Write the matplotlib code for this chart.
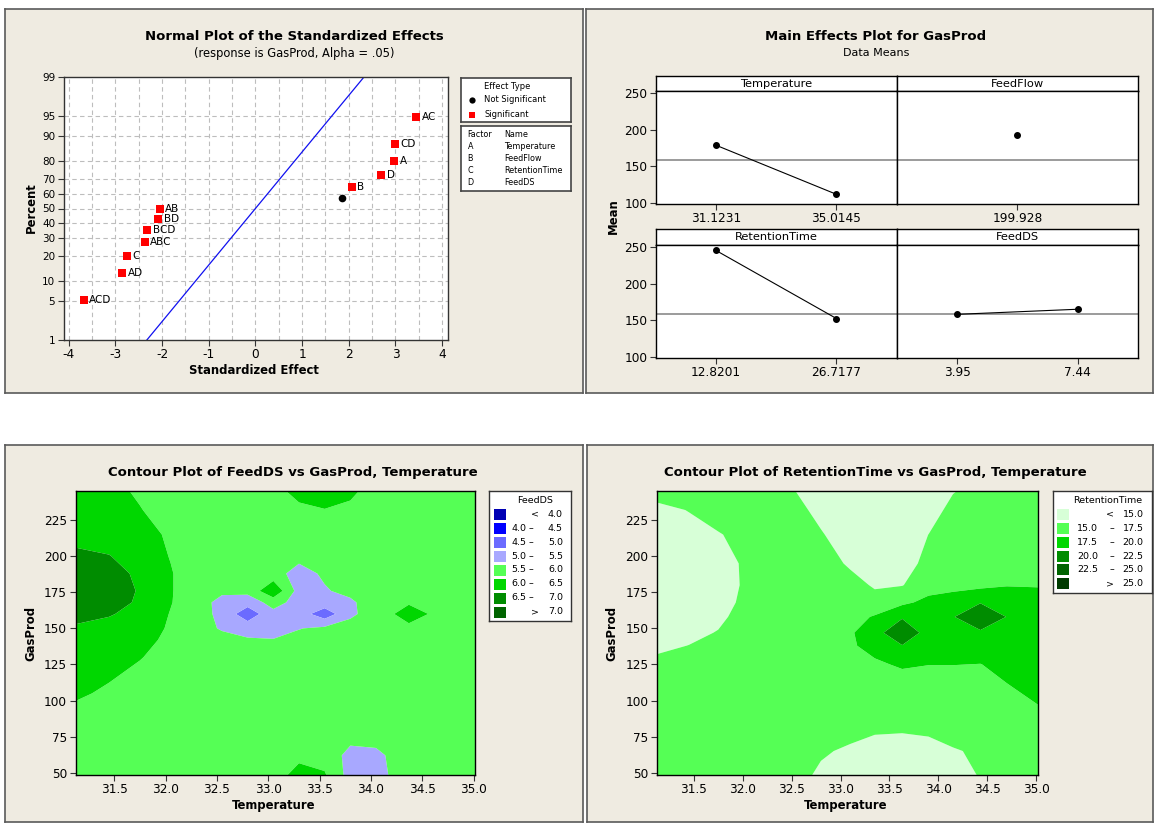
import numpy as np
import matplotlib
matplotlib.use("Agg")
from matplotlib import pyplot as plt
from matplotlib.patches import Rectangle
from statistics import NormalDist

W, H = 1154, 823
plt.rcParams["font.family"] = ["DejaVu Sans"]

BG = "#EFEBE1"
FRAME = "#333333"

# --- normal plot of standardized effects ---
EFFECT_NAMES = ["ACD", "AD", "C", "ABC", "BCD", "BD", "AB", "", "B", "D", "A", "CD", "AC"]
EFFECT_X = [-3.68, -2.85, -2.75, -2.37, -2.32, -2.08, -2.05, 1.86, 2.06, 2.69, 2.98, 2.99, 3.45]
EFFECT_PCT = [5.2, 12.7, 20.1, 27.6, 35.1, 42.5, 50.0, 57.5, 64.9, 72.4, 79.9, 87.3, 94.8]
EFFECT_SIG = [True, True, True, True, True, True, True, False, True, True, True, True, True]
PCT_TICKS = [1, 5, 10, 20, 30, 40, 50, 60, 70, 80, 90, 95, 99]
EFFECT_XTICKS = [-4, -3, -2, -1, 0, 1, 2, 3, 4]
FIT_MEAN, FIT_SD = 0.0, 1.0
FACTOR_CODES = ["A", "B", "C", "D"]
FACTOR_NAMES = ["Temperature", "FeedFlow", "RetentionTime", "FeedDS"]

# --- main effects ---
ME_LEVELS = [["31.1231", "35.0145"], ["199.928"], ["12.8201", "26.7177"], ["3.95", "7.44"]]
ME_MEANS = [[178.7, 111.5], [192.4], [245.5, 152.3], [158.0, 165.0]]
GRAND_MEAN = 158.4

# --- contour: FeedDS ---
FD_X = [31.12, 31.45, 31.75, 32.05, 32.3, 32.55, 32.8, 33.05, 33.3, 33.55, 33.8, 34.05, 34.37, 34.7, 35.02]
FD_Y = [48.4, 62, 80, 105, 130, 142, 150, 160, 168, 176, 188, 200, 215, 232, 245.2]
FD_Z = [
    [5.75, 5.75, 5.75, 5.75, 5.75, 5.75, 5.75, 5.85, 6.12, 6.05, 5.30, 5.35, 5.75, 5.75, 5.75],
    [5.75, 5.75, 5.75, 5.75, 5.75, 5.75, 5.75, 5.75, 5.92, 5.80, 5.35, 5.40, 5.75, 5.75, 5.75],
    [5.82, 5.78, 5.75, 5.75, 5.75, 5.75, 5.75, 5.75, 5.75, 5.75, 5.75, 5.75, 5.75, 5.75, 5.75],
    [6.05, 5.95, 5.80, 5.75, 5.75, 5.75, 5.75, 5.75, 5.75, 5.75, 5.75, 5.75, 5.75, 5.75, 5.75],
    [6.20, 6.12, 6.02, 5.85, 5.75, 5.75, 5.75, 5.75, 5.75, 5.75, 5.75, 5.75, 5.75, 5.75, 5.75],
    [6.30, 6.22, 6.10, 5.93, 5.75, 5.70, 5.55, 5.52, 5.65, 5.72, 5.75, 5.75, 5.75, 5.75, 5.75],
    [6.38, 6.30, 6.20, 5.95, 5.75, 5.44, 5.30, 5.30, 5.48, 5.60, 5.70, 5.80, 5.89, 5.82, 5.75],
    [6.80, 6.55, 6.30, 5.98, 5.75, 5.35, 4.70, 5.35, 5.25, 4.70, 5.40, 5.75, 6.20, 5.85, 5.75],
    [6.90, 6.70, 6.43, 6.02, 5.75, 5.33, 5.20, 5.70, 5.30, 5.30, 5.40, 5.82, 5.95, 5.85, 5.75],
    [6.95, 6.75, 6.46, 6.03, 5.75, 5.60, 5.65, 6.40, 5.30, 5.45, 5.65, 5.75, 5.80, 5.75, 5.75],
    [6.85, 6.70, 6.40, 6.03, 5.75, 5.75, 5.75, 5.70, 5.30, 5.58, 5.75, 5.75, 5.75, 5.75, 5.75],
    [6.60, 6.52, 6.25, 5.98, 5.75, 5.75, 5.75, 5.75, 5.65, 5.75, 5.75, 5.75, 5.75, 5.75, 5.75],
    [6.35, 6.25, 6.10, 5.96, 5.75, 5.75, 5.75, 5.75, 5.75, 5.75, 5.75, 5.75, 5.75, 5.75, 5.75],
    [6.30, 6.17, 6.02, 5.82, 5.75, 5.75, 5.75, 5.75, 5.90, 5.98, 5.90, 5.75, 5.75, 5.75, 5.75],
    [6.25, 6.12, 5.94, 5.80, 5.75, 5.75, 5.75, 5.85, 6.15, 6.30, 6.10, 5.80, 5.75, 5.75, 5.75],
]
FD_LEVELS = [0, 4.0, 4.5, 5.0, 5.5, 6.0, 6.5, 7.0, 10]
FD_COLORS = ["#0000B4", "#0000FF", "#6B6BFF", "#A8A8FF", "#55FF55", "#00D700", "#008C00", "#006400"]

# --- contour: RetentionTime ---
RT_X = [31.12, 31.45, 31.75, 32.1, 32.45, 32.8, 33.1, 33.35, 33.63, 33.9, 34.15, 34.43, 34.7, 35.02]
RT_Y = [48.4, 65, 80, 97, 112, 125, 138, 147, 158, 168, 180, 195, 215, 232, 245.2]
RT_Z = [
    [16.25, 16.25, 16.25, 16.25, 16.25, 14.57, 13.80, 13.50, 13.40, 13.60, 14.20, 15.13, 16.25, 16.25],
    [16.25, 16.25, 16.25, 16.25, 16.25, 15.30, 14.61, 14.40, 14.30, 14.40, 14.80, 15.36, 16.25, 16.25],
    [16.25, 16.25, 16.25, 16.25, 16.25, 16.25, 15.80, 15.20, 15.15, 15.30, 16.00, 16.25, 16.25, 16.50],
    [16.25, 16.25, 16.25, 16.25, 16.25, 16.25, 16.25, 16.25, 16.25, 16.25, 16.25, 16.25, 16.80, 17.50],
    [15.80, 16.25, 16.25, 16.25, 16.25, 16.25, 16.25, 16.25, 16.25, 16.25, 16.25, 16.50, 17.50, 18.00],
    [15.30, 15.60, 15.90, 16.25, 16.25, 16.25, 16.25, 17.00, 17.90, 17.55, 17.55, 17.45, 18.20, 18.30],
    [14.75, 15.02, 15.40, 16.00, 16.25, 16.25, 17.10, 18.53, 19.90, 18.70, 18.60, 18.80, 18.70, 18.60],
    [14.50, 14.70, 15.06, 15.90, 16.25, 16.25, 17.21, 19.00, 22.10, 18.90, 18.80, 19.70, 19.00, 18.80],
    [14.20, 14.40, 14.75, 15.62, 16.10, 16.25, 16.50, 17.75, 19.70, 18.80, 19.90, 21.50, 19.95, 18.80],
    [14.00, 14.20, 14.60, 15.38, 16.00, 16.25, 16.25, 15.60, 17.00, 18.14, 18.60, 19.90, 18.80, 18.50],
    [13.90, 14.10, 14.50, 15.30, 16.00, 16.25, 15.60, 14.81, 14.90, 16.50, 16.80, 16.90, 17.40, 17.35],
    [14.00, 14.20, 14.60, 15.27, 16.00, 15.80, 14.76, 14.20, 14.20, 15.55, 16.25, 16.25, 16.25, 16.25],
    [14.20, 14.50, 14.90, 15.60, 16.10, 15.15, 14.00, 13.70, 13.70, 15.02, 16.00, 16.25, 16.25, 16.25],
    [14.60, 15.05, 15.70, 16.10, 15.90, 14.47, 13.50, 13.30, 13.30, 13.80, 15.80, 16.25, 16.25, 16.25],
    [15.60, 16.00, 16.25, 16.25, 15.50, 13.55, 13.00, 12.80, 12.80, 13.00, 14.85, 15.90, 16.25, 16.25],
]
RT_LEVELS = [0, 15.0, 17.5, 20.0, 22.5, 25.0, 40]
RT_COLORS = ["#D7FFD7", "#55FF55", "#00D700", "#008C00", "#006400", "#003C00"]

TEMP_TICKS = [31.5, 32.0, 32.5, 33.0, 33.5, 34.0, 34.5, 35.0]
GAS_TICKS = [50, 75, 100, 125, 150, 175, 200, 225]

TITLE_FS = 9.5
LABEL_FS = 8.4
TICK_FS = 8.7

fig = plt.figure(figsize=(W / 100, H / 100), dpi=100)


def rect(l, t, r, b):
    return [l / W, 1 - b / H, (r - l) / W, (b - t) / H]


def px_axes(l, t, r, b, fc="white", ec=FRAME, lw=1.0):
    a = fig.add_axes(rect(l, t, r, b), facecolor=fc)
    a.set_xlim(l, r)
    a.set_ylim(b, t)
    a.set_xticks([])
    a.set_yticks([])
    for s in a.spines.values():
        s.set_color(ec)
        s.set_linewidth(lw)
    return a


def ftext(x, y, s, **kw):
    kw.setdefault("ha", "center")
    kw.setdefault("va", "center")
    fig.text(x / W, 1 - y / H, s, **kw)


def style_ticks(a):
    a.tick_params(direction="out", length=4, width=0.8, colors=FRAME, labelsize=TICK_FS,
                  labelcolor="black", pad=2)
    for s in a.spines.values():
        s.set_color(FRAME)
        s.set_linewidth(1.0)


# panel backgrounds
for box in [(5, 9, 583, 393), (586, 9, 1153, 393), (5, 445, 583, 822), (587, 445, 1153, 822)]:
    px_axes(*box, fc=BG, ec="#5A5A5A", lw=1.2)

# ---------------- normal plot ----------------
nd = NormalDist()


def zq(p):
    return nd.inv_cdf(p / 100.0)


ax = fig.add_axes(rect(63.6, 77, 448.4, 340))
ax.set_xlim(-4.11, 4.135)
ax.set_ylim(zq(1), zq(99))
for xv in np.arange(-4, 4.01, 0.5):
    ax.axvline(xv, color="#BDBDBD", lw=0.8, ls=(0, (4, 3)), zorder=0)
for p in PCT_TICKS[1:-1]:
    ax.axhline(zq(p), color="#BDBDBD", lw=0.8, ls=(0, (4, 3)), zorder=0)
zs = np.array(ax.get_ylim())
ax.plot(FIT_MEAN + FIT_SD * zs, zs, color="#1010F0", lw=0.9, zorder=2)
for name, x, p, sig in zip(EFFECT_NAMES, EFFECT_X, EFFECT_PCT, EFFECT_SIG):
    if sig:
        ax.plot(x, zq(p), "s", color="#FF0000", ms=5.5, mew=0, zorder=3)
    else:
        ax.plot(x, zq(p), "o", color="black", ms=5.5, mew=0, zorder=3)
    if name:
        ax.annotate(name, (x, zq(p)), xytext=(4, 0), textcoords="offset points",
                    va="center", ha="left", fontsize=7.5)
ax.set_xticks(EFFECT_XTICKS)
ax.set_xticklabels([str(v) for v in EFFECT_XTICKS])
ax.set_yticks([zq(p) for p in PCT_TICKS])
ax.set_yticklabels([str(p) for p in PCT_TICKS])
style_ticks(ax)
ax.tick_params(axis="y", labelsize=7.5)

ftext(294, 36, "Normal Plot of the Standardized Effects", fontsize=TITLE_FS, fontweight="bold")
ftext(294, 53, "(response is GasProd, Alpha = .05)", fontsize=8.3)
ftext(254, 370, "Standardized Effect", fontsize=LABEL_FS, fontweight="bold")
ftext(31, 208, "Percent", fontsize=LABEL_FS, fontweight="bold", rotation=90)

# legends
lg = px_axes(461, 78, 571, 122, ec="#444444", lw=1.2)
lg.text(484, 86.5, "Effect Type", fontsize=6, va="center", ha="left")
lg.plot(471.7, 100, "o", color="black", ms=4.5, mew=0)
lg.text(484, 100, "Not Significant", fontsize=6, va="center", ha="left")
lg.plot(471.7, 114.5, "s", color="#FF0000", ms=4.5, mew=0)
lg.text(484, 114.5, "Significant", fontsize=6, va="center", ha="left")

lf = px_axes(461, 126, 571, 191, ec="#444444", lw=1.2)
lf.text(467.5, 134.5, "Factor", fontsize=5.8, va="center", ha="left")
lf.text(504, 134.5, "Name", fontsize=5.8, va="center", ha="left")
for i, (code, nm) in enumerate(zip(FACTOR_CODES, FACTOR_NAMES)):
    yy = 146 + i * 12.2
    lf.text(467.5, yy, code, fontsize=5.8, va="center", ha="left")
    lf.text(504, yy, nm, fontsize=5.8, va="center", ha="left")

# ---------------- main effects ----------------
ftext(876, 36, "Main Effects Plot for GasProd", fontsize=TITLE_FS, fontweight="bold")
ftext(876, 53, "Data Means", fontsize=8)
ftext(613, 216, "Mean", fontsize=LABEL_FS, fontweight="bold", rotation=90)

col_x = [(655.8, 896.6), (896.6, 1138.2)]
row_y = [(76, 91, 204), (229, 245, 358)]
for i, (fname, levels, means) in enumerate(zip(FACTOR_NAMES, ME_LEVELS, ME_MEANS)):
    r, c = divmod(i, 2)
    xl, xr = col_x[c]
    st, dt, db = row_y[r]
    strip = px_axes(xl, st, xr, dt, ec="black", lw=1.0)
    strip.text((xl + xr) / 2, (st + dt) / 2 + 0.5, fname, fontsize=8.2, ha="center", va="center")
    a = fig.add_axes(rect(xl, dt, xr, db), facecolor="white")
    n = len(levels)
    pos = np.arange(n) + 1 + (2 - n) / 2
    a.axhline(GRAND_MEAN, color="#8A8A8A", lw=1.2, zorder=1)
    a.plot(pos, means, "-o", color="black", lw=0.8, ms=4, zorder=2)
    a.set_xlim(0.5, 2.5)
    a.set_ylim(98.2, 253.0)
    a.set_xticks(pos)
    a.set_xticklabels(levels)
    a.set_yticks([100, 150, 200, 250])
    style_ticks(a)
    for s in a.spines.values():
        s.set_color("black")
    if c == 1:
        a.tick_params(axis="y", left=False, labelleft=False)


# ---------------- contour plots ----------------
def contour_panel(l, t, r, b, xs, ys, zz, levels, colors):
    a = fig.add_axes(rect(l, t, r, b))
    a.contourf(xs, ys, np.array(zz), levels=levels, colors=colors, antialiased=True)
    a.set_xlim(31.1231, 35.0145)
    a.set_ylim(48.4, 245.2)
    a.set_xticks(TEMP_TICKS)
    a.set_xticklabels([f"{v:.1f}" for v in TEMP_TICKS])
    a.set_yticks(GAS_TICKS)
    style_ticks(a)
    for s in a.spines.values():
        s.set_color("black")
    return a


contour_panel(75.5, 491, 475, 775, FD_X, FD_Y, FD_Z, FD_LEVELS, FD_COLORS)
ftext(293, 472.5, "Contour Plot of FeedDS vs GasProd, Temperature", fontsize=TITLE_FS, fontweight="bold")
ftext(274, 805.5, "Temperature", fontsize=LABEL_FS, fontweight="bold")
ftext(31, 633, "GasProd", fontsize=LABEL_FS, fontweight="bold", rotation=90)

contour_panel(656.9, 491, 1037.6, 775, RT_X, RT_Y, RT_Z, RT_LEVELS, RT_COLORS)
ftext(875, 472.5, "Contour Plot of RetentionTime vs GasProd, Temperature", fontsize=TITLE_FS, fontweight="bold")
ftext(846, 805.5, "Temperature", fontsize=LABEL_FS, fontweight="bold")
ftext(612, 633, "GasProd", fontsize=LABEL_FS, fontweight="bold", rotation=90)


def contour_legend(l, t, r, b, title, title_x, levels, colors, sw, lo_x, dash_x, cmp_x, hi_x, rows_y):
    lg = px_axes(l, t, r, b, ec="#333333", lw=1.0)
    lg.text(title_x, 500.5, title, fontsize=6.8, ha="center", va="center")
    bands = len(colors)
    for k in range(bands):
        yy = rows_y[k]
        lg.add_patch(Rectangle((sw[0], yy - 5.5), sw[1] - sw[0], 11, fc=colors[k], ec="none"))
        if k == 0:
            lg.text(cmp_x, yy, "<", fontsize=6.8, ha="center", va="center")
            lg.text(hi_x, yy, f"{levels[1]:.1f}", fontsize=6.8, ha="right", va="center")
        elif k == bands - 1:
            lg.text(cmp_x, yy, ">", fontsize=6.8, ha="center", va="center")
            lg.text(hi_x, yy, f"{levels[k]:.1f}", fontsize=6.8, ha="right", va="center")
        else:
            lg.text(lo_x, yy, f"{levels[k]:.1f}", fontsize=6.8, ha="left", va="center")
            lg.text(dash_x, yy, "\u2013", fontsize=6.8, ha="center", va="center")
            lg.text(hi_x, yy, f"{levels[k + 1]:.1f}", fontsize=6.8, ha="right", va="center")


contour_legend(489.4, 491, 570.8, 620.5, "FeedDS", 535, FD_LEVELS, FD_COLORS, (494.3, 505.7),
               511.5, 531, 535, 563, [514.3, 528.3, 542.3, 556.3, 570, 584, 598, 612])
contour_legend(1052.7, 491, 1151.8, 593.3, "RetentionTime", 1108, RT_LEVELS, RT_COLORS, (1057.3, 1069.3),
               1077.2, 1111.7, 1110, 1143.5, [514.3, 528.3, 542.3, 556.3, 569.3, 583.7])

fig.savefig("out.png", dpi=100)
